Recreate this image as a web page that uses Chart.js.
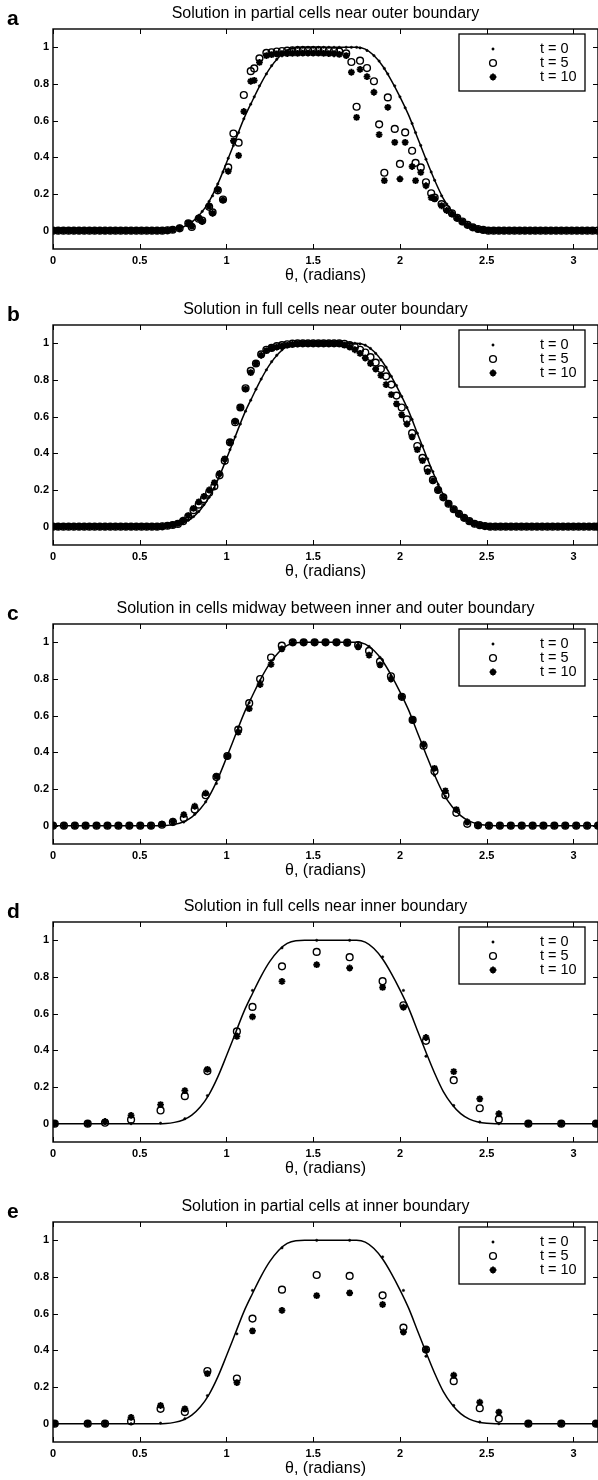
<!DOCTYPE html>
<html>
<head>
<meta charset="utf-8">
<title>Solution profiles</title>
<script src="https://cdn.jsdelivr.net/npm/chart.js@4.4.0/dist/chart.umd.min.js"></script>
<style>
  html, body { margin: 0; padding: 0; background: #fff; overflow: hidden; }
  .panel { position: absolute; left: 0; width: 598px; height: 296px; }
</style>
</head>
<body>
<div class="panel" style="top:0px"><canvas id="chartA" width="598" height="296"></canvas></div>
<div class="panel" style="top:296px"><canvas id="chartB" width="598" height="296"></canvas></div>
<div class="panel" style="top:595px"><canvas id="chartC" width="598" height="296"></canvas></div>
<div class="panel" style="top:893px"><canvas id="chartD" width="598" height="296"></canvas></div>
<div class="panel" style="top:1193px"><canvas id="chartE" width="598" height="296"></canvas></div>
<script>
const xTicks = [0, 0.5, 1, 1.5, 2, 2.5, 3];
const yTicks = [0, 0.2, 0.4, 0.6, 0.8, 1];
const seriesLabels = ['t = 0', 't = 5', 't = 10'];

// exact profile (solid line), same in every panel
const curveTheta = [0, 0.6, 0.65, 0.7, 0.75, 0.8, 0.85, 0.9, 0.95, 1.0, 1.05, 1.1, 1.15, 1.2, 1.25, 1.3, 1.35, 1.4,
  1.45, 1.5, 1.55, 1.6, 1.65, 1.7, 1.75, 1.8, 1.85, 1.9, 1.95, 2.0, 2.05, 2.1, 2.15, 2.2, 2.25, 2.3, 2.35, 2.4,
  2.45, 2.5, 2.55, 3.1416];
const curveU = [0, 0, 0.001, 0.007, 0.02, 0.047, 0.092, 0.16, 0.255, 0.37, 0.49, 0.61, 0.71, 0.805, 0.885, 0.945, 0.983, 0.998,
  1, 1, 1, 1, 1, 1, 1, 0.99, 0.955, 0.898, 0.82, 0.73, 0.63, 0.51, 0.39, 0.275, 0.175, 0.105, 0.055, 0.025,
  0.009, 0.002, 0, 0];

// a: partial cells near outer boundary
const thetaA = [0, 0.03, 0.06, 0.09, 0.12, 0.15, 0.18, 0.21, 0.24, 0.27, 0.3, 0.33, 0.36, 0.39, 0.42, 0.45, 0.48, 0.51, 0.54, 0.57, 0.6, 0.63, 0.66, 0.69,
  0.73, 0.78, 0.8, 0.84, 0.86, 0.9, 0.92, 0.95, 0.98, 1.01, 1.04, 1.07, 1.1, 1.14, 1.16, 1.19, 1.23, 1.26, 1.29, 1.32, 1.35, 1.38, 1.41, 1.44, 1.47,
  1.5, 1.53, 1.56, 1.59, 1.62, 1.65, 1.69, 1.72, 1.75, 1.77, 1.81, 1.85, 1.88, 1.91, 1.93, 1.97, 2.0, 2.03, 2.07, 2.09, 2.12, 2.15, 2.18, 2.2, 2.24,
  2.27, 2.3, 2.33, 2.36, 2.39, 2.42, 2.45, 2.48,
  2.51, 2.54, 2.57, 2.6, 2.63, 2.66, 2.69, 2.72, 2.75, 2.78, 2.81, 2.84, 2.87, 2.9, 2.93, 2.96, 2.99, 3.02, 3.05, 3.08, 3.11, 3.14];
const t0A = [0, 0, 0, 0, 0, 0, 0, 0, 0, 0, 0, 0, 0, 0, 0, 0, 0, 0, 0, 0, 0, 0, 0, 0,
  0.014, 0.035, 0.047, 0.083, 0.105, 0.16, 0.19, 0.255, 0.32, 0.395, 0.465, 0.535, 0.61, 0.69, 0.73, 0.79, 0.855, 0.9, 0.935, 0.965, 0.983, 0.995,
  1, 1, 1, 1, 1, 1, 1, 1, 1, 1, 1, 1, 0.997, 0.983, 0.955, 0.925, 0.885, 0.855, 0.79, 0.73, 0.67, 0.585, 0.535, 0.465, 0.39, 0.32, 0.275, 0.19,
  0.145, 0.105, 0.072, 0.047, 0.03, 0.018, 0.01, 0.004,
  0, 0, 0, 0, 0, 0, 0, 0, 0, 0, 0, 0, 0, 0, 0, 0, 0, 0, 0, 0, 0, 0];
const t5A = [0, 0, 0, 0, 0, 0, 0, 0, 0, 0, 0, 0, 0, 0, 0, 0, 0, 0, 0, 0, 0, 0, 0.002, 0.005,
  0.013, 0.04, 0.02, 0.065, 0.055, 0.13, 0.1, 0.22, 0.17, 0.345, 0.53, 0.48, 0.74, 0.87, 0.885, 0.94, 0.97, 0.973, 0.977, 0.98, 0.982, 0.984,
  0.985, 0.985, 0.985, 0.985, 0.985, 0.984, 0.982, 0.98, 0.978, 0.967, 0.92, 0.676, 0.927, 0.887, 0.815, 0.58, 0.316, 0.727, 0.555, 0.364, 0.536,
  0.436, 0.37, 0.345, 0.264, 0.204, 0.18, 0.145, 0.118, 0.095, 0.07, 0.05, 0.032, 0.018, 0.009, 0.004,
  0, 0, 0, 0, 0, 0, 0, 0, 0, 0, 0, 0, 0, 0, 0, 0, 0, 0, 0, 0, 0, 0];
const t10A = [0, 0, 0, 0, 0, 0, 0, 0, 0, 0, 0, 0, 0, 0, 0, 0, 0, 0, 0, 0, 0, 0, 0.003, 0.006,
  0.015, 0.04, 0.025, 0.07, 0.05, 0.135, 0.095, 0.224, 0.167, 0.324, 0.49, 0.41, 0.65, 0.815, 0.82, 0.918, 0.955, 0.96, 0.964, 0.965, 0.966, 0.967,
  0.967, 0.968, 0.968, 0.968, 0.968, 0.967, 0.966, 0.965, 0.962, 0.955, 0.864, 0.618, 0.88, 0.84, 0.755, 0.524, 0.273, 0.673, 0.482, 0.282, 0.482,
  0.35, 0.273, 0.318, 0.245, 0.18, 0.173, 0.136, 0.11, 0.09, 0.068, 0.048, 0.03, 0.017, 0.008, 0.004,
  0, 0, 0, 0, 0, 0, 0, 0, 0, 0, 0, 0, 0, 0, 0, 0, 0, 0, 0, 0, 0, 0];

// b: full cells near outer boundary
const thetaB = [0, 0.03, 0.06, 0.09, 0.12, 0.15, 0.18, 0.21, 0.24, 0.27, 0.3, 0.33, 0.36, 0.39, 0.42, 0.45, 0.48, 0.51, 0.54, 0.57, 0.6, 0.63, 0.66, 0.69,
  0.72, 0.75, 0.78, 0.81, 0.84, 0.87, 0.9, 0.93, 0.96, 0.99, 1.02, 1.05, 1.08, 1.11, 1.14, 1.17, 1.2, 1.23, 1.26, 1.29, 1.32, 1.35, 1.38, 1.41,
  1.44, 1.47, 1.5, 1.53, 1.56, 1.59, 1.62, 1.65, 1.68, 1.71, 1.74, 1.77, 1.8, 1.83, 1.86, 1.89, 1.92, 1.95, 1.98, 2.01, 2.04, 2.07, 2.1, 2.13,
  2.16, 2.19, 2.22, 2.25, 2.28, 2.31, 2.34, 2.37, 2.4, 2.43, 2.46, 2.49,
  2.52, 2.55, 2.58, 2.61, 2.64, 2.67, 2.7, 2.73, 2.76, 2.79, 2.82, 2.85, 2.88, 2.91, 2.94, 2.97, 3.0, 3.03, 3.06, 3.09, 3.12, 3.14];
const t0B = [0, 0, 0, 0, 0, 0, 0, 0, 0, 0, 0, 0, 0, 0, 0, 0, 0, 0, 0, 0, 0, 0, 0, 0,
  0.012, 0.02, 0.035, 0.055, 0.083, 0.12, 0.16, 0.21, 0.275, 0.345, 0.42, 0.49, 0.56, 0.63, 0.69, 0.75, 0.805, 0.855, 0.9, 0.935, 0.965, 0.983, 0.995,
  1, 1, 1, 1, 1, 1, 1, 1, 1, 1, 1, 1,
  0.997, 0.99, 0.972, 0.945, 0.91, 0.87, 0.82, 0.77, 0.71, 0.65, 0.585, 0.51, 0.44, 0.37, 0.3, 0.23, 0.175, 0.13, 0.092, 0.065, 0.04, 0.025,
  0.014, 0.007, 0.003,
  0, 0, 0, 0, 0, 0, 0, 0, 0, 0, 0, 0, 0, 0, 0, 0, 0, 0, 0, 0, 0, 0];
const t5B = [0, 0, 0, 0, 0, 0, 0, 0, 0, 0, 0, 0, 0, 0, 0, 0, 0, 0, 0, 0, 0, 0.002, 0.005, 0.009,
  0.015, 0.03, 0.055, 0.09, 0.12, 0.15, 0.185, 0.22, 0.28, 0.36, 0.46, 0.57, 0.65, 0.755, 0.85, 0.89, 0.94, 0.965, 0.975, 0.985, 0.99, 0.995, 0.998,
  1, 1, 1, 1, 1, 1, 1, 1, 1,
  0.997, 0.99, 0.98, 0.965, 0.95, 0.925, 0.895, 0.86, 0.82, 0.775, 0.715, 0.65, 0.585, 0.51, 0.44, 0.375, 0.315, 0.255, 0.2, 0.16, 0.125, 0.095,
  0.07, 0.048, 0.03, 0.016, 0.008, 0.003,
  0, 0, 0, 0, 0, 0, 0, 0, 0, 0, 0, 0, 0, 0, 0, 0, 0, 0, 0, 0, 0, 0];
const t10B = [0, 0, 0, 0, 0, 0, 0, 0, 0, 0, 0, 0, 0, 0, 0, 0, 0, 0, 0, 0, 0, 0.003, 0.006, 0.011,
  0.018, 0.035, 0.06, 0.1, 0.135, 0.165, 0.2, 0.24, 0.29, 0.37, 0.46, 0.575, 0.65, 0.75, 0.84, 0.89, 0.935, 0.96, 0.975, 0.98, 0.985, 0.99, 0.995,
  0.997, 0.998, 0.998, 0.998, 0.998, 0.998, 0.998, 0.998, 0.998,
  0.99, 0.98, 0.965, 0.945, 0.92, 0.89, 0.86, 0.825, 0.775, 0.72, 0.67, 0.61, 0.56, 0.49, 0.42, 0.36, 0.3, 0.25, 0.2, 0.16, 0.125, 0.095,
  0.07, 0.048, 0.03, 0.016, 0.008, 0.003,
  0, 0, 0, 0, 0, 0, 0, 0, 0, 0, 0, 0, 0, 0, 0, 0, 0, 0, 0, 0, 0, 0];

// c: cells midway between boundaries
const thetaC = [0, 0.063, 0.126, 0.188, 0.251, 0.314, 0.377, 0.44, 0.503, 0.565, 0.628, 0.691, 0.754, 0.817, 0.88, 0.942, 1.005,
  1.068, 1.131, 1.194, 1.257, 1.319, 1.382, 1.445, 1.508, 1.571, 1.634, 1.696, 1.759, 1.822, 1.885, 1.948, 2.011, 2.073, 2.136,
  2.199, 2.262, 2.325, 2.388, 2.45, 2.513, 2.576, 2.639, 2.702, 2.765, 2.827, 2.89, 2.953, 3.016, 3.079, 3.142];
const t0C = [0, 0, 0, 0, 0, 0, 0, 0, 0, 0,
  0, 0.006, 0.02, 0.062, 0.13, 0.23, 0.38, 0.535, 0.67, 0.79, 0.9, 0.965, 0.995, 1, 1, 1, 1, 1, 0.998, 0.978,
  0.918, 0.82, 0.71, 0.585, 0.43, 0.275, 0.16, 0.077, 0.03, 0.01, 0.001,
  0, 0, 0, 0, 0, 0, 0, 0, 0, 0];
const t5C = [0, 0, 0, 0, 0, 0, 0, 0, 0, 0,
  0.005, 0.02, 0.04, 0.088, 0.166, 0.265, 0.38, 0.524, 0.668, 0.8, 0.917, 0.982, 1, 1, 1, 1, 1, 0.998, 0.985, 0.953,
  0.895, 0.815, 0.703, 0.577, 0.436, 0.297, 0.166, 0.07, 0.01, 0.002, 0,
  0, 0, 0, 0, 0, 0, 0, 0, 0, 0];
const t10C = [0, 0, 0, 0, 0, 0, 0, 0, 0, 0,
  0.008, 0.025, 0.06, 0.106, 0.177, 0.27, 0.38, 0.51, 0.638, 0.77, 0.88, 0.964, 1, 1, 1, 1, 1, 0.997, 0.975, 0.93,
  0.877, 0.8, 0.703, 0.577, 0.445, 0.313, 0.19, 0.088, 0.02, 0.003, 0,
  0, 0, 0, 0, 0, 0, 0, 0, 0, 0];

// d, e: cells near / at inner boundary (coarse grid)
const thetaInner = [0.01, 0.2, 0.3, 0.45, 0.62, 0.76, 0.89, 1.06, 1.15, 1.32, 1.52, 1.71, 1.9, 2.02, 2.15, 2.31, 2.46, 2.57, 2.74, 2.93, 3.13];
const t0Inner = [0, 0, 0, 0, 0.003, 0.027, 0.153, 0.49, 0.727, 0.959, 1, 1, 0.91, 0.727, 0.368, 0.099, 0.009, 0, 0, 0, 0];
const t5D = [0, 0, 0.005, 0.022, 0.072, 0.15, 0.287, 0.503, 0.637, 0.858, 0.937, 0.908, 0.777, 0.646, 0.452, 0.237, 0.084, 0.023, 0, 0, 0];
const t10D = [0, 0, 0.012, 0.045, 0.104, 0.18, 0.296, 0.476, 0.583, 0.776, 0.867, 0.849, 0.743, 0.635, 0.47, 0.284, 0.135, 0.054, 0, 0, 0];
const t5E = [0, 0, 0, 0.013, 0.081, 0.063, 0.287, 0.246, 0.573, 0.731, 0.811, 0.806, 0.7, 0.524, 0.404, 0.232, 0.084, 0.027, 0, 0, 0];
const t10E = [0, 0, 0, 0.034, 0.099, 0.081, 0.273, 0.224, 0.506, 0.618, 0.698, 0.713, 0.65, 0.5, 0.404, 0.264, 0.117, 0.063, 0, 0, 0];

const panels = [
  { id: 'chartA', letter: 'a', title: 'Solution in partial cells near outer boundary', theta: thetaA, u: [t0A, t5A, t10A] },
  { id: 'chartB', letter: 'b', title: 'Solution in full cells near outer boundary', theta: thetaB, u: [t0B, t5B, t10B] },
  { id: 'chartC', letter: 'c', title: 'Solution in cells midway between inner and outer boundary', theta: thetaC, u: [t0C, t5C, t10C] },
  { id: 'chartD', letter: 'd', title: 'Solution in full cells near inner boundary', theta: thetaInner, u: [t0Inner, t5D, t10D] },
  { id: 'chartE', letter: 'e', title: 'Solution in partial cells at inner boundary', theta: thetaInner, u: [t0Inner, t5E, t10E] }
];

const FONT = '"Liberation Sans", Arial, Helvetica, sans-serif';

// matlab style: closed box, inward ticks, title, panel letter, boxed legend
const matlabAxes = {
  id: 'matlabAxes',
  afterDatasetsDraw(chart, args, opts) {
    const { ctx, chartArea: area, scales } = chart;
    ctx.save();
    ctx.strokeStyle = '#000';
    ctx.lineWidth = 1.4;
    ctx.strokeRect(area.left, area.top, area.right - area.left, area.bottom - area.top);
    ctx.lineWidth = 1;
    ctx.beginPath();
    xTicks.forEach(v => {
      const px = Math.round(scales.x.getPixelForValue(v)) + 0.5;
      ctx.moveTo(px, area.bottom); ctx.lineTo(px, area.bottom - 5);
      ctx.moveTo(px, area.top); ctx.lineTo(px, area.top + 5);
    });
    yTicks.forEach(v => {
      const py = Math.round(scales.y.getPixelForValue(v)) + 0.5;
      ctx.moveTo(area.left, py); ctx.lineTo(area.left + 5, py);
      ctx.moveTo(area.right, py); ctx.lineTo(area.right - 5, py);
    });
    ctx.stroke();

    ctx.fillStyle = '#000';
    ctx.font = 'bold 21px ' + FONT;
    ctx.textAlign = 'left';
    ctx.textBaseline = 'alphabetic';
    ctx.fillText(opts.letter, 7, area.top - 4);
    ctx.font = '16px ' + FONT;
    ctx.textAlign = 'center';
    ctx.textBaseline = 'middle';
    ctx.fillText(opts.title, (area.left + area.right) / 2, area.top - 15);

    // legend
    const bx = area.right - 139, by = area.top + 5, bw = 126, bh = 57;
    ctx.fillStyle = '#fff';
    ctx.fillRect(bx, by, bw, bh);
    ctx.lineWidth = 1.3;
    ctx.strokeRect(bx, by, bw, bh);
    const rowY = [20, 34, 48];
    chart.data.datasets.filter(ds => seriesLabels.includes(ds.label)).forEach((ds, i) => {
      const y = area.top + rowY[i];
      ctx.fillStyle = ds.backgroundColor;
      ctx.strokeStyle = ds.borderColor;
      ctx.lineWidth = ds.borderWidth;
      Chart.helpers.drawPoint(ctx, {
        pointStyle: ds.pointStyle, radius: ds.pointRadius, borderWidth: ds.borderWidth, rotation: 0
      }, bx + 34, y);
      ctx.fillStyle = '#000';
      ctx.font = '14.5px ' + FONT;
      ctx.textAlign = 'left';
      ctx.fillText(ds.label, bx + 81, y);
    });
    ctx.restore();
  }
};

const tickFont = { family: FONT, size: 11, weight: 'bold' };

panels.forEach(p => {
  const pts = arr => p.theta.map((x, i) => ({ x: x, y: arr[i] }));
  new Chart(document.getElementById(p.id), {
    type: 'scatter',
    data: {
      datasets: [
        {
          label: 'exact',
          data: curveTheta.map((x, i) => ({ x: x, y: curveU[i] })),
          showLine: true,
          pointRadius: 0,
          borderColor: '#000',
          borderWidth: 1.5,
          cubicInterpolationMode: 'monotone',
          order: 4
        },
        {
          label: seriesLabels[0],
          data: pts(p.u[0]),
          pointStyle: 'circle',
          pointRadius: 1.2,
          backgroundColor: '#000',
          borderColor: '#000',
          borderWidth: 0.5,
          order: 3
        },
        {
          label: seriesLabels[1],
          data: pts(p.u[1]),
          pointStyle: 'circle',
          pointRadius: 3.4,
          backgroundColor: 'rgba(0,0,0,0)',
          borderColor: '#000',
          borderWidth: 1.4,
          order: 2
        },
        {
          label: seriesLabels[2],
          data: pts(p.u[2]),
          pointStyle: 'star',
          pointRadius: 3.4,
          backgroundColor: '#000',
          borderColor: '#000',
          borderWidth: 1.9,
          order: 1
        }
      ]
    },
    options: {
      responsive: false,
      animation: false,
      events: [],
      // no automatic inset for edge markers: pi must land on the page edge
      layout: { autoPadding: false, padding: { top: 29, left: 0, right: 0, bottom: 0 } },
      scales: {
        x: {
          type: 'linear',
          min: 0,
          max: Math.PI,
          afterBuildTicks: s => { s.ticks = xTicks.map(v => ({ value: v })); },
          afterFit: s => { s.height = 47; },
          grid: { display: false, drawTicks: false },
          border: { display: false },
          ticks: { color: '#000', font: tickFont, padding: 5, maxRotation: 0, autoSkip: false, callback: v => String(v) },
          title: { display: true, text: 'θ, (radians)', color: '#000', font: { family: FONT, size: 16 }, padding: { top: 0, bottom: 11 } }
        },
        y: {
          type: 'linear',
          min: -0.1,
          max: 1.1,
          afterBuildTicks: s => { s.ticks = yTicks.map(v => ({ value: v })); },
          afterFit: s => { s.width = 53; },
          grid: { display: false, drawTicks: false },
          border: { display: false },
          ticks: { color: '#000', font: tickFont, padding: 4, autoSkip: false, callback: v => String(v) }
        }
      },
      plugins: {
        legend: { display: false },
        tooltip: { enabled: false },
        matlabAxes: { letter: p.letter, title: p.title }
      }
    },
    plugins: [matlabAxes]
  });
});
</script>
</body>
</html>
